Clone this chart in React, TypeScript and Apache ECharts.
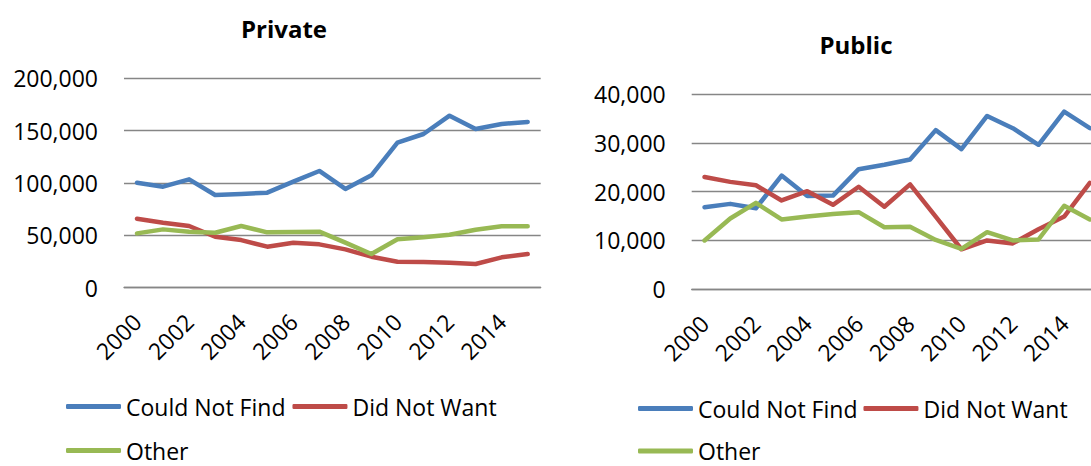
import React, { useEffect, useRef } from "react";
import * as echarts from "echarts";

const years = ["2000","2001","2002","2003","2004","2005","2006","2007","2008","2009","2010","2011","2012","2013","2014","2015"];
const seriesNames = ["Could Not Find", "Did Not Want", "Other"];

const privCouldNotFind = [100300, 96500, 103500, 88500, 89500, 90800, 101300, 111500, 94300, 107300, 138500, 146800, 164300, 151600, 156400, 158300];
const privDidNotWant = [65900, 62100, 58900, 48700, 45500, 39200, 43000, 41400, 36600, 29600, 24800, 24500, 23900, 22600, 29000, 32200];
const privOther = [51900, 55700, 53500, 52500, 58900, 52900, 53200, 53500, 43000, 32200, 46200, 48100, 50600, 55400, 58600, 58600];

const pubCouldNotFind = [16800, 17500, 16600, 23300, 19100, 19200, 24600, 25500, 26600, 32600, 28700, 35500, 33000, 29600, 36400, 33000];
const pubDidNotWant = [23000, 22000, 21300, 18200, 20100, 17300, 21000, 16900, 21500, 14900, 8200, 10000, 9400, 12300, 14900, 21800];
const pubOther = [10000, 14500, 17700, 14300, 14900, 15400, 15800, 12700, 12800, 10100, 8300, 11700, 10000, 10200, 17100, 14300];

const colors = ["#4A7EBB", "#BE4B48", "#98B954"];
const FONT = '"Open Sans", "Noto Sans", sans-serif';

const fmt = (v: number) => v.toLocaleString("en-US");

export default function App() {
  const ref = useRef<HTMLDivElement>(null);
  useEffect(() => {
    if (!ref.current) return;
    const chart = echarts.init(ref.current, undefined, { renderer: "svg" });
    const gridLine = { lineStyle: { color: "#868686", width: 1.3 } };
    const xAxisBase = (gridIndex: number) => ({
      type: "category" as const,
      gridIndex,
      data: years,
      boundaryGap: true,
      axisLine: { show: true, lineStyle: { color: "#868686", width: 1.3 } },
      axisTick: { show: false },
      axisLabel: {
        interval: 1,
        rotate: 45,
        margin: 30,
        fontSize: 23,
        fontFamily: FONT,
        color: "#000",
      },
    });
    const yAxisBase = (gridIndex: number, max: number, interval: number) => ({
      type: "value" as const,
      gridIndex,
      min: 0,
      max,
      interval,
      axisLine: { show: false },
      axisTick: { show: false },
      splitLine: gridLine,
      axisLabel: {
        margin: 26,
        fontSize: 23,
        fontFamily: FONT,
        color: "#000",
        formatter: (v: number) => fmt(v),
      },
    });
    const lineSeries = (name: string, data: number[], idx: number, colorIdx: number) => ({
      type: "line" as const,
      name,
      data,
      xAxisIndex: idx,
      yAxisIndex: idx,
      showSymbol: false,
      symbol: "none",
      color: colors[colorIdx],
      lineStyle: { width: 4.5, color: colors[colorIdx], cap: "round", join: "round" },
    });
    const legendBase = {
      icon: "roundRect",
      itemWidth: 55,
      itemHeight: 5,
      padding: 0,
      textStyle: { fontSize: 23, lineHeight: 22, fontFamily: FONT, color: "#000" },
    };
    chart.setOption({
      animation: false,
      backgroundColor: "#fff",
      graphic: [
        {
          type: "text",
          x: 284,
          y: 28,
          style: { text: "Private", fontSize: 24, fontWeight: "bold", fontFamily: FONT, fill: "#000", align: "center", verticalAlign: "middle" },
        },
        {
          type: "text",
          x: 856,
          y: 44,
          style: { text: "Public", fontSize: 24, fontWeight: "bold", fontFamily: FONT, fill: "#000", align: "center", verticalAlign: "middle" },
        },
      ],
      grid: [
        { left: 124, top: 78.3, width: 416.7, height: 209.4, containLabel: false },
        { left: 691.7, top: 94, width: 411, height: 195.3, containLabel: false },
      ],
      xAxis: [xAxisBase(0), xAxisBase(1)],
      yAxis: [yAxisBase(0, 200000, 50000), yAxisBase(1, 40000, 10000)],
      legend: [
        { ...legendBase, data: [seriesNames[0], seriesNames[1]], left: 66, top: 395, itemGap: 7 },
        { ...legendBase, data: [seriesNames[2]], left: 66, top: 439 },
        { ...legendBase, data: [seriesNames[0], seriesNames[1]], left: 638, top: 397, itemGap: 6 },
        { ...legendBase, data: [seriesNames[2]], left: 638, top: 439.5 },
      ],
      series: [
        lineSeries(seriesNames[0], privCouldNotFind, 0, 0),
        lineSeries(seriesNames[1], privDidNotWant, 0, 1),
        lineSeries(seriesNames[2], privOther, 0, 2),
        lineSeries(seriesNames[0], pubCouldNotFind, 1, 0),
        lineSeries(seriesNames[1], pubDidNotWant, 1, 1),
        lineSeries(seriesNames[2], pubOther, 1, 2),
      ],
    });
    return () => chart.dispose();
  }, []);
  return (
    <div style={{ position: "absolute", left: 0, top: 0, width: 1091, height: 466, overflow: "hidden", background: "#fff" }}>
      <div ref={ref} style={{ width: 1110, height: 466 }} />
    </div>
  );
}
